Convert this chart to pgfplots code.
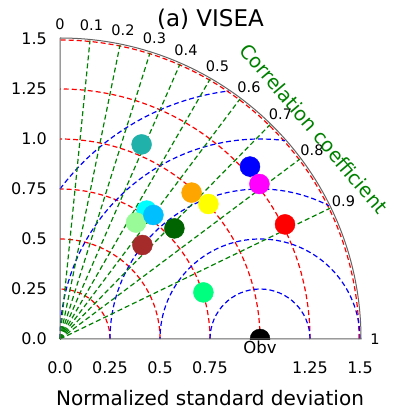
\documentclass[border=0pt]{standalone}
\usepackage{fontspec}
\setmainfont{DejaVu Sans}
\usepackage{pgfplots}
\pgfplotsset{compat=1.18}
\definecolor{cLightSeaGreen}{RGB}{32,178,170}
\definecolor{cCyan}{RGB}{0,255,255}
\definecolor{cDeepSkyBlue}{RGB}{0,191,255}
\definecolor{cPaleGreen}{RGB}{152,251,152}
\definecolor{cDarkGreen}{RGB}{0,100,0}
\definecolor{cBrown}{RGB}{165,42,42}
\definecolor{cOrange}{RGB}{255,165,0}
\definecolor{cYellow}{RGB}{255,255,0}
\definecolor{cBlue}{RGB}{0,0,255}
\definecolor{cMagenta}{RGB}{255,0,255}
\definecolor{cRed}{RGB}{255,0,0}
\definecolor{cSpringGreen}{RGB}{0,255,127}
\definecolor{mplgreen}{RGB}{0,128,0}
\definecolor{axgray}{RGB}{100,100,100}
\tikzset{
  gridline/.style={line width=1.2pt, dash pattern=on 5pt off 3pt},
}
\begin{document}
\begin{tikzpicture}
\path[use as bounding box] (-60pt,-75pt) rectangle (333pt,339pt);
% standard deviation arcs (red)
\foreach \r in {50,100,150,200,250,299}
  \draw[gridline, cRed] (\r pt,0) arc[start angle=0, end angle=90, radius=\r pt];
% RMSD arcs (blue), centred on the observation (1,0)
\draw[gridline, cBlue] (250pt,0) arc[start angle=0, end angle=180, radius=50pt];
\draw[gridline, cBlue] (300pt,0) arc[start angle=0, end angle=180, radius=100pt];
\draw[gridline, cBlue] (50pt,0) arc[start angle=180, end angle=62.72, radius=150pt];
\draw[gridline, cBlue] (0pt,0) arc[start angle=180, end angle=82.82, radius=200pt];
\draw[gridline, cBlue] (0pt,150pt) arc[start angle=143.13, end angle=97.18, radius=250pt];
% correlation rays (green)
\foreach \c in {0.1,0.2,0.3,0.4,0.5,0.6,0.7,0.8,0.9}
  \draw[gridline, mplgreen] (0,0) -- ({acos(\c)}:300pt);
\begin{axis}[
  at={(0pt,0pt)}, anchor=south west,
  scale only axis, width=300pt, height=300pt,
  xmin=0, xmax=1.5, ymin=0, ymax=1.5,
  axis line style={draw=none},
  major tick length=0pt,
  /pgf/number format/assume math mode=true,
  xtick={0,0.25,0.5,0.75,1.25,1.5},
  xticklabels={0.0,0.25,0.5,0.75,1.25,1.5},
  ytick={0,0.25,0.5,0.75,1,1.25,1.5},
  yticklabels={0.0,0.25,0.5,0.75,1.0,1.25,1.5},
  tick label style={font=\fontsize{16}{18}\selectfont, inner sep=0pt},
  xticklabel style={anchor=base, yshift=-34pt},
  yticklabel style={anchor=east, xshift=-13pt},
  clip=true,
  clip marker paths=true,
]
\addplot[only marks, mark=*, mark size=10pt, color=cLightSeaGreen] coordinates {(0.408,0.973)};
\addplot[only marks, mark=*, mark size=10pt, color=cCyan] coordinates {(0.433,0.642)};
\addplot[only marks, mark=*, mark size=10pt, color=cPaleGreen] coordinates {(0.380,0.582)};
\addplot[only marks, mark=*, mark size=10pt, color=cDeepSkyBlue] coordinates {(0.467,0.620)};
\addplot[only marks, mark=*, mark size=10pt, color=cBrown] coordinates {(0.412,0.470)};
\addplot[only marks, mark=*, mark size=10pt, color=cDarkGreen] coordinates {(0.572,0.553)};
\addplot[only marks, mark=*, mark size=10pt, color=cOrange] coordinates {(0.658,0.732)};
\addplot[only marks, mark=*, mark size=10pt, color=cYellow] coordinates {(0.742,0.675)};
\addplot[only marks, mark=*, mark size=10pt, color=cBlue] coordinates {(0.950,0.862)};
\addplot[only marks, mark=*, mark size=10pt, color=cMagenta] coordinates {(0.997,0.775)};
\addplot[only marks, mark=*, mark size=10pt, color=cRed] coordinates {(1.125,0.573)};
\addplot[only marks, mark=*, mark size=10pt, color=cSpringGreen] coordinates {(0.717,0.233)};
\addplot[only marks, mark=*, mark size=10pt, color=black] coordinates {(1.0,0.0)};
\end{axis}
% frame
\draw[axgray, line width=1pt] (0,301pt) -- (0,0) -- (301pt,0)
   arc[start angle=0, end angle=90, radius=301pt];
% correlation labels
\foreach \c in {0,0.1,0.2,0.3,0.4,0.5,0.6,0.7,0.8,0.9,1}
  \node[font=\fontsize{14.5}{16}\selectfont, inner sep=0pt] at ({acos(\c)}:315pt) {\c};
\node[font=\fontsize{19.5}{22}\selectfont, text=mplgreen, rotate=-49.7, inner sep=0pt]
  at (254pt,210.5pt) {Correlation coefficient};
\node[font=\fontsize{16.5}{18}\selectfont, anchor=base, inner sep=0pt] at (200pt,-15pt) {Obv};
\node[font=\fontsize{20}{24}\selectfont, anchor=base, inner sep=0pt] at (150pt,-66pt) {Normalized standard deviation};
\node[font=\fontsize{23}{26}\selectfont, anchor=base, inner sep=0pt] at (150.5pt,312.3pt) {(a) VISEA};
\end{tikzpicture}
\end{document}
